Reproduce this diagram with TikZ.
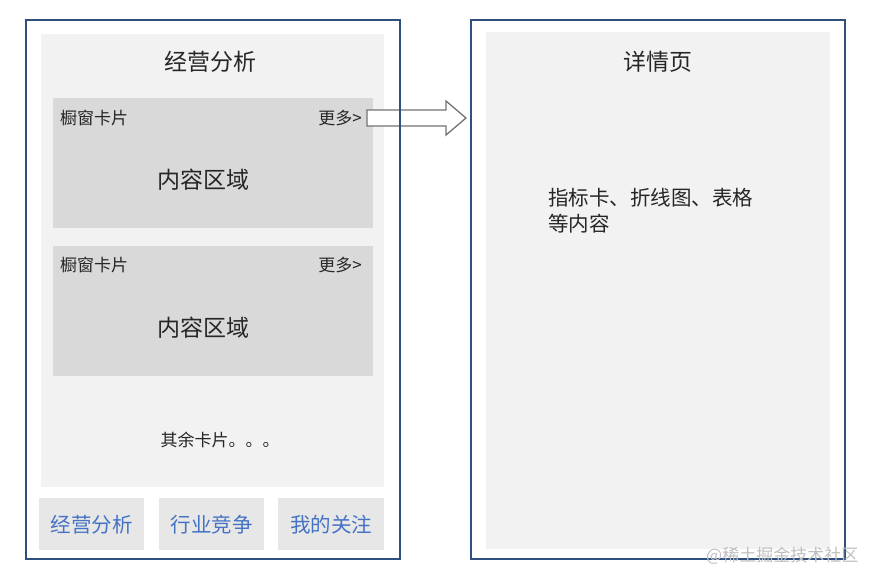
\documentclass[tikz,border=0pt]{standalone}
\usepackage{fontspec}
\setmainfont{Noto Sans CJK SC}
\definecolor{framecol}{HTML}{2F4F7F}
\definecolor{panelcol}{HTML}{F2F2F2}
\definecolor{cardcol}{HTML}{D9D9D9}
\definecolor{tabcol}{HTML}{E7E7E7}
\definecolor{tabtext}{HTML}{4472C4}
\tikzset{
  frame/.style={draw=framecol, line width=1.8pt},
  bigtxt/.style={font=\fontsize{23}{27}\selectfont, text=black!85},
  smalltxt/.style={font=\fontsize{17}{20}\selectfont, text=black!85, inner sep=0pt},
  tabtxt/.style={font=\fontsize{20.5}{24}\selectfont, text=tabtext},
}
\begin{document}
\begin{tikzpicture}[x=1pt, y=-1pt]
  \useasboundingbox (0,0) rectangle (874,573);
  % left screen
  \fill[panelcol] (41,34) rectangle (384,487);
  \fill[cardcol] (53,98) rectangle (373,228);
  \fill[cardcol] (53,246) rectangle (373,376);
  \fill[tabcol] (39,498) rectangle (144,550);
  \fill[tabcol] (159,498) rectangle (264,550);
  \fill[tabcol] (278,498) rectangle (384,550);
  \node[bigtxt] (lefttitle) at (210,62) {经营分析};
  \node[smalltxt, anchor=west] (card1name) at (60,118) {橱窗卡片};
  \node[smalltxt, anchor=east] (card1more) at (362,118) {更多>};
  \node[bigtxt] (card1body) at (203,180) {内容区域};
  \node[smalltxt, anchor=west] (card2name) at (60,265) {橱窗卡片};
  \node[smalltxt, anchor=east] (card2more) at (362,265) {更多>};
  \node[bigtxt] (card2body) at (203,328) {内容区域};
  \node[smalltxt] (rest) at (220,440) {其余卡片。。。};
  \node[tabtxt] (tab1) at (91.5,525) {经营分析};
  \node[tabtxt] (tab2) at (211.5,525) {行业竞争};
  \node[tabtxt] (tab3) at (331,525) {我的关注};
  % right screen
  \fill[panelcol] (486,32) rectangle (830,549);
  \node[bigtxt] (righttitle) at (658,62) {详情页};
  \node[font=\fontsize{20.5}{26}\selectfont, text=black!85, anchor=north west, align=left, inner sep=0pt]
    (detail) at (548,188) {指标卡、折线图、表格\\等内容};
  % hollow arrow, under the frames
  \coordinate (arrstart) at ([xshift=5pt]card1more.east);
  \draw[gray!90!black, line width=1.3pt, fill=white]
    (arrstart) ++(0,-8) -- ++(79,0) -- ++(0,-9) -- ++(20,17)
    -- ++(-20,17) -- ++(0,-9) -- ++(-79,0) -- cycle;
  \draw[frame] (26,20) rectangle (400,559);
  \draw[frame] (471,20) rectangle (845,559);
  \node[font=\fontsize{17}{20}\selectfont, text=black!25, anchor=west, inner sep=0pt]
    (mark) at (706,556) {@稀土掘金技术社区};
\end{tikzpicture}
\end{document}
